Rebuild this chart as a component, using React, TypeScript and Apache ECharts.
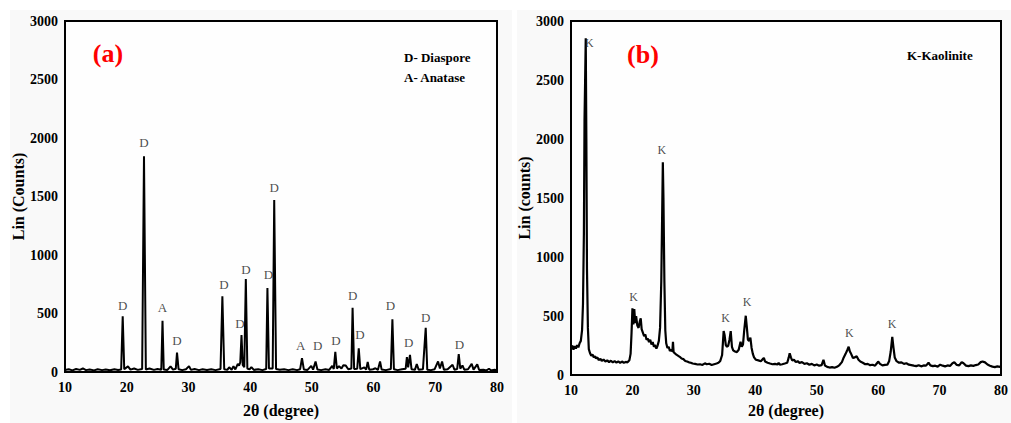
import React, { useEffect, useRef } from "react";
import * as echarts from "echarts";

const xTicks = [10, 80, 10];
const yTicks = [0, 3000, 500];

// Panel (a): 2θ, counts
const xrdA: number[][] = [
  [10.0, 18], [10.6, 24], [11.2, 14], [11.8, 26], [12.4, 18], [12.9, 30], [13.4, 16], [14.0, 22], [14.7, 14], [15.3, 24],
  [16.0, 16], [16.6, 22], [17.3, 15], [18.0, 24], [18.6, 18], [19.1, 22], [19.35, 476], [19.6, 24], [20.2, 48], [20.6, 20],
  [21.2, 30], [21.8, 18], [22.5, 26], [22.8, 1845], [23.1, 22], [23.7, 30], [24.4, 18], [25.0, 26], [25.6, 20], [25.8, 437],
  [26.0, 22], [26.6, 18], [27.1, 48], [27.5, 20], [27.95, 28], [28.15, 166], [28.4, 24], [29.0, 16], [29.6, 24], [30.1, 50],
  [30.4, 18], [31.0, 26], [31.7, 16], [32.3, 24], [33.0, 18], [33.7, 24], [34.4, 16], [35.2, 26], [35.5, 648], [35.8, 24],
  [36.3, 18], [36.6, 40], [37.0, 20], [37.3, 50], [37.6, 22], [38.0, 70], [38.2, 55], [38.4, 82], [38.6, 315], [38.8, 60],
  [39.05, 40], [39.3, 794], [39.55, 30], [39.9, 22], [40.2, 42], [40.6, 18], [41.3, 24], [42.0, 16], [42.6, 26], [42.8, 718],
  [43.05, 30], [43.65, 30], [43.9, 1470], [44.2, 26], [44.8, 20], [45.5, 24], [46.2, 16], [46.9, 24], [47.6, 16], [48.1, 24],
  [48.4, 118], [48.7, 22], [49.3, 18], [49.9, 52], [50.2, 20], [50.6, 90], [50.9, 22], [51.5, 16], [52.2, 24], [52.8, 18],
  [53.3, 52], [53.55, 26], [53.8, 172], [54.05, 30], [54.4, 50], [54.8, 30], [55.1, 58], [55.5, 55], [55.9, 24], [56.4, 30],
  [56.6, 549], [56.85, 26], [57.35, 28], [57.6, 203], [57.85, 24], [58.5, 40], [58.8, 20], [59.05, 85], [59.3, 20], [59.9, 24],
  [60.3, 32], [60.7, 18], [61.05, 90], [61.3, 22], [62.0, 16], [62.8, 26], [63.05, 450], [63.3, 24], [63.9, 16], [64.6, 24],
  [65.2, 28], [65.4, 127], [65.6, 40], [65.9, 146], [66.15, 24], [66.7, 18], [67.0, 68], [67.3, 20], [68.0, 24], [68.45, 377],
  [68.7, 20], [69.3, 16], [69.9, 24], [70.45, 90], [70.75, 30], [71.1, 90], [71.4, 20], [72.0, 24], [72.8, 62], [73.1, 20],
  [73.55, 26], [73.8, 152], [74.05, 28], [74.4, 56], [74.7, 20], [75.3, 24], [75.9, 70], [76.2, 20], [76.8, 65], [77.1, 18],
  [77.8, 20], [78.3, 14], [78.7, 28], [79.0, 14], [79.6, 20], [80.0, 16],
];

// Panel (a) phase labels: 2θ, counts (label centre), text
const labelsA: [number, number, string][] = [
  [19.35, 569, "D"], [22.8, 1963, "D"], [25.8, 555, "A"], [28.15, 273, "D"], [35.75, 752, "D"],
  [38.35, 414, "D"], [39.3, 879, "D"], [42.95, 837, "D"], [43.9, 1577, "D"], [48.2, 223, "A"],
  [50.95, 223, "D"], [53.9, 265, "D"], [56.6, 654, "D"], [57.8, 321, "D"], [62.75, 569, "D"],
  [65.7, 251, "D"], [68.45, 465, "D"], [73.9, 237, "D"],
];

// Panel (b): 2θ, counts
const xrdB: number[][] = [
  [10.0, 230], [10.2, 250], [10.4, 215], [10.6, 245], [10.8, 225], [11.0, 255], [11.2, 235], [11.4, 270], [11.6, 290], [11.8, 380],
  [11.95, 600], [12.1, 1200], [12.2, 2160], [12.3, 2500], [12.4, 2853], [12.5, 2000], [12.6, 900], [12.75, 400], [12.9, 220], [13.1, 185],
  [13.3, 165], [13.5, 175], [13.7, 150], [13.9, 160], [14.1, 140], [14.3, 150], [14.5, 128], [14.8, 138], [15.0, 120], [15.3, 132],
  [15.6, 115], [15.9, 125], [16.2, 110], [16.5, 122], [16.8, 108], [17.1, 118], [17.4, 106], [17.7, 116], [18.0, 104], [18.3, 115],
  [18.6, 105], [18.9, 112], [19.2, 108], [19.5, 125], [19.7, 180], [19.85, 350], [20.0, 565], [20.15, 430], [20.3, 560], [20.45, 440],
  [20.6, 500], [20.8, 420], [21.0, 400], [21.2, 455], [21.35, 480], [21.5, 390], [21.7, 360], [21.9, 330], [22.1, 345], [22.3, 300],
  [22.5, 310], [22.7, 280], [22.9, 300], [23.1, 260], [23.3, 280], [23.5, 240], [23.7, 255], [23.9, 225], [24.1, 250], [24.3, 290],
  [24.5, 400], [24.7, 800], [24.85, 1400], [24.95, 1803], [25.05, 1500], [25.2, 800], [25.35, 380], [25.5, 270], [25.7, 230], [25.9, 240],
  [26.1, 205], [26.3, 215], [26.5, 200], [26.6, 282], [26.7, 195], [26.9, 185], [27.1, 175], [27.4, 165], [27.7, 155], [28.0, 140],
  [28.3, 135], [28.6, 120], [28.9, 115], [29.2, 108], [29.5, 105], [29.8, 98], [30.2, 95], [30.6, 90], [31.0, 92], [31.4, 86],
  [31.8, 100], [32.1, 92], [32.5, 96], [32.9, 86], [33.3, 92], [33.7, 98], [34.0, 104], [34.3, 120], [34.6, 170], [34.85, 373],
  [35.0, 340], [35.2, 255], [35.4, 240], [35.6, 250], [35.8, 300], [36.0, 373], [36.2, 240], [36.4, 210], [36.7, 200], [37.0, 195],
  [37.3, 215], [37.6, 282], [37.8, 240], [38.0, 260], [38.2, 380], [38.45, 503], [38.6, 420], [38.8, 300], [39.0, 290], [39.2, 318],
  [39.4, 230], [39.6, 180], [39.8, 150], [40.1, 130], [40.5, 125], [40.9, 118], [41.2, 135], [41.4, 145], [41.6, 115], [42.0, 105],
  [42.4, 98], [42.8, 92], [43.2, 95], [43.6, 90], [43.8, 104], [44.0, 88], [44.4, 92], [44.8, 98], [45.2, 105], [45.45, 150],
  [45.6, 185], [45.8, 150], [46.0, 125], [46.3, 130], [46.6, 110], [46.9, 118], [47.2, 104], [47.6, 110], [48.0, 95], [48.4, 100],
  [48.8, 88], [49.2, 95], [49.6, 82], [50.0, 90], [50.4, 80], [50.8, 85], [51.1, 130], [51.35, 80], [51.7, 70], [52.1, 64],
  [52.5, 68], [52.9, 62], [53.3, 70], [53.7, 85], [54.1, 110], [54.4, 150], [54.7, 180], [55.0, 215], [55.2, 240], [55.4, 200],
  [55.6, 180], [55.9, 145], [56.2, 150], [56.5, 160], [56.8, 130], [57.1, 115], [57.5, 105], [57.9, 92], [58.3, 95], [58.7, 84],
  [59.1, 88], [59.5, 80], [59.8, 100], [60.0, 115], [60.3, 95], [60.7, 82], [61.1, 86], [61.5, 88], [61.8, 120], [62.05, 200],
  [62.3, 323], [62.5, 230], [62.7, 150], [63.0, 118], [63.4, 105], [63.8, 108], [64.2, 95], [64.6, 100], [65.0, 88], [65.4, 85],
  [65.8, 80], [66.2, 76], [66.6, 84], [67.0, 74], [67.4, 82], [67.8, 80], [68.2, 105], [68.5, 82], [68.9, 76], [69.3, 80],
  [69.7, 72], [70.1, 88], [70.5, 80], [70.9, 74], [71.3, 82], [71.7, 78], [72.1, 100], [72.4, 108], [72.8, 86], [73.2, 82],
  [73.6, 110], [73.9, 100], [74.3, 80], [74.7, 76], [75.1, 82], [75.5, 78], [75.9, 85], [76.3, 90], [76.7, 110], [77.0, 116],
  [77.4, 108], [77.8, 90], [78.2, 80], [78.6, 72], [79.0, 68], [79.4, 74], [79.8, 70], [80.0, 75],
];

const labelsB: [number, number, string][] = [
  [13.0, 2820, "K"], [20.18, 662, "K"], [24.8, 1909, "K"], [35.16, 488, "K"],
  [38.66, 626, "K"], [55.3, 357, "K"], [62.26, 440, "K"],
];

const FONT = "Liberation Serif";

function xAxisCfg(gridIndex: number, nameGap: number) {
  return {
    type: "value" as const,
    gridIndex,
    min: xTicks[0],
    max: xTicks[1],
    interval: xTicks[2],
    name: "2θ (degree)",
    nameLocation: "middle" as const,
    nameGap,
    nameTextStyle: { fontFamily: FONT, fontWeight: "bold", fontSize: 16, color: "#000" },
    axisLine: { show: true, onZero: false, lineStyle: { color: "#000", width: 2 } },
    axisTick: { show: true, inside: true, length: 5, lineStyle: { color: "#000", width: 1.5 } },
    axisLabel: { fontFamily: FONT, fontWeight: "bold", fontSize: 14, color: "#000", margin: 8, formatter: (v: number) => String(v) },
    splitLine: { show: false },
  };
}

function yAxisCfg(gridIndex: number, name: string, nameGap: number) {
  return {
    type: "value" as const,
    gridIndex,
    min: yTicks[0],
    max: yTicks[1],
    interval: yTicks[2],
    name,
    nameLocation: "middle" as const,
    nameGap,
    nameTextStyle: { fontFamily: FONT, fontWeight: "bold", fontSize: 16, color: "#000" },
    axisLine: { show: true, lineStyle: { color: "#000", width: 2 } },
    axisTick: { show: true, inside: true, length: 5, lineStyle: { color: "#000", width: 1.5 } },
    minorTick: { show: true, splitNumber: 2, length: 4, lineStyle: { color: "#000", width: 1.5 } },
    axisLabel: { fontFamily: FONT, fontWeight: "bold", fontSize: 14, color: "#000", margin: 7, formatter: (v: number) => String(v) },
    splitLine: { show: false },
  };
}

function labelSeries(idx: number, labels: [number, number, string][], fontSize: number) {
  return {
    type: "scatter" as const,
    xAxisIndex: idx,
    yAxisIndex: idx,
    symbolSize: 1,
    itemStyle: { color: "rgba(0,0,0,0)" },
    silent: true,
    z: 5,
    data: labels.map((l) => ({ value: [l[0], l[1]], name: l[2] })),
    label: {
      show: true,
      position: "top" as const,
      distance: 0,
      offset: [0, 7],
      formatter: (p: any) => p.name,
      fontFamily: FONT,
      fontSize,
      color: "#1a1a1a",
    },
  };
}

export default function App() {
  const ref = useRef<HTMLDivElement>(null);
  useEffect(() => {
    if (!ref.current) return;
    const chart = echarts.init(ref.current, undefined, { renderer: "svg" });
    chart.setOption({
      animation: false,
      backgroundColor: "#ffffff",
      textStyle: { fontFamily: FONT },
      grid: [
        { left: 65, top: 21, right: 514, bottom: 47, show: true, borderColor: "#000", borderWidth: 2, backgroundColor: "#fefefe", z: 1 },
        { left: 571, top: 21, right: 6, bottom: 41, show: true, borderColor: "#000", borderWidth: 2, backgroundColor: "#fefefe", z: 1 },
      ],
      xAxis: [xAxisCfg(0, 30), xAxisCfg(1, 26)],
      yAxis: [yAxisCfg(0, "Lin (Counts)", 37), yAxisCfg(1, "Lin (counts)", 32)],
      graphic: [
        { type: "rect", z: -10, shape: { x: 10, y: 10, width: 502, height: 413 }, style: { fill: "#f9f9f9" } },
        { type: "rect", z: -10, shape: { x: 517, y: 10, width: 494, height: 413 }, style: { fill: "#f9f9f9" } },
        { type: "text", z: 10, x: 108, y: 53, style: { text: "(a)", fontFamily: FONT, fontWeight: "bold", fontSize: 26, fill: "#ff0000", align: "center", verticalAlign: "middle" } },
        { type: "text", z: 10, x: 643, y: 54, style: { text: "(b)", fontFamily: FONT, fontWeight: "bold", fontSize: 26, fill: "#ff0000", align: "center", verticalAlign: "middle" } },
        { type: "text", z: 10, x: 404, y: 57, style: { text: "D- Diaspore", fontFamily: FONT, fontWeight: "bold", fontSize: 13, fill: "#000", align: "left", verticalAlign: "middle" } },
        { type: "text", z: 10, x: 404, y: 77, style: { text: "A- Anatase", fontFamily: FONT, fontWeight: "bold", fontSize: 13, fill: "#000", align: "left", verticalAlign: "middle" } },
        { type: "text", z: 10, x: 907, y: 55, style: { text: "K-Kaolinite", fontFamily: FONT, fontWeight: "bold", fontSize: 13, fill: "#000", align: "left", verticalAlign: "middle" } },
      ],
      series: [
        {
          type: "line",
          xAxisIndex: 0,
          yAxisIndex: 0,
          data: xrdA,
          symbol: "none",
          silent: true,
          lineStyle: { color: "#000", width: 2 },
          z: 3,
        },
        {
          type: "line",
          xAxisIndex: 1,
          yAxisIndex: 1,
          data: xrdB,
          symbol: "none",
          silent: true,
          lineStyle: { color: "#000", width: 2.2 },
          z: 3,
        },
        labelSeries(0, labelsA, 13),
        labelSeries(1, labelsB, 12),
      ],
    });
    return () => chart.dispose();
  }, []);
  return <div ref={ref} style={{ width: 1011, height: 423, position: "absolute", left: 0, top: 0 }} />;
}
